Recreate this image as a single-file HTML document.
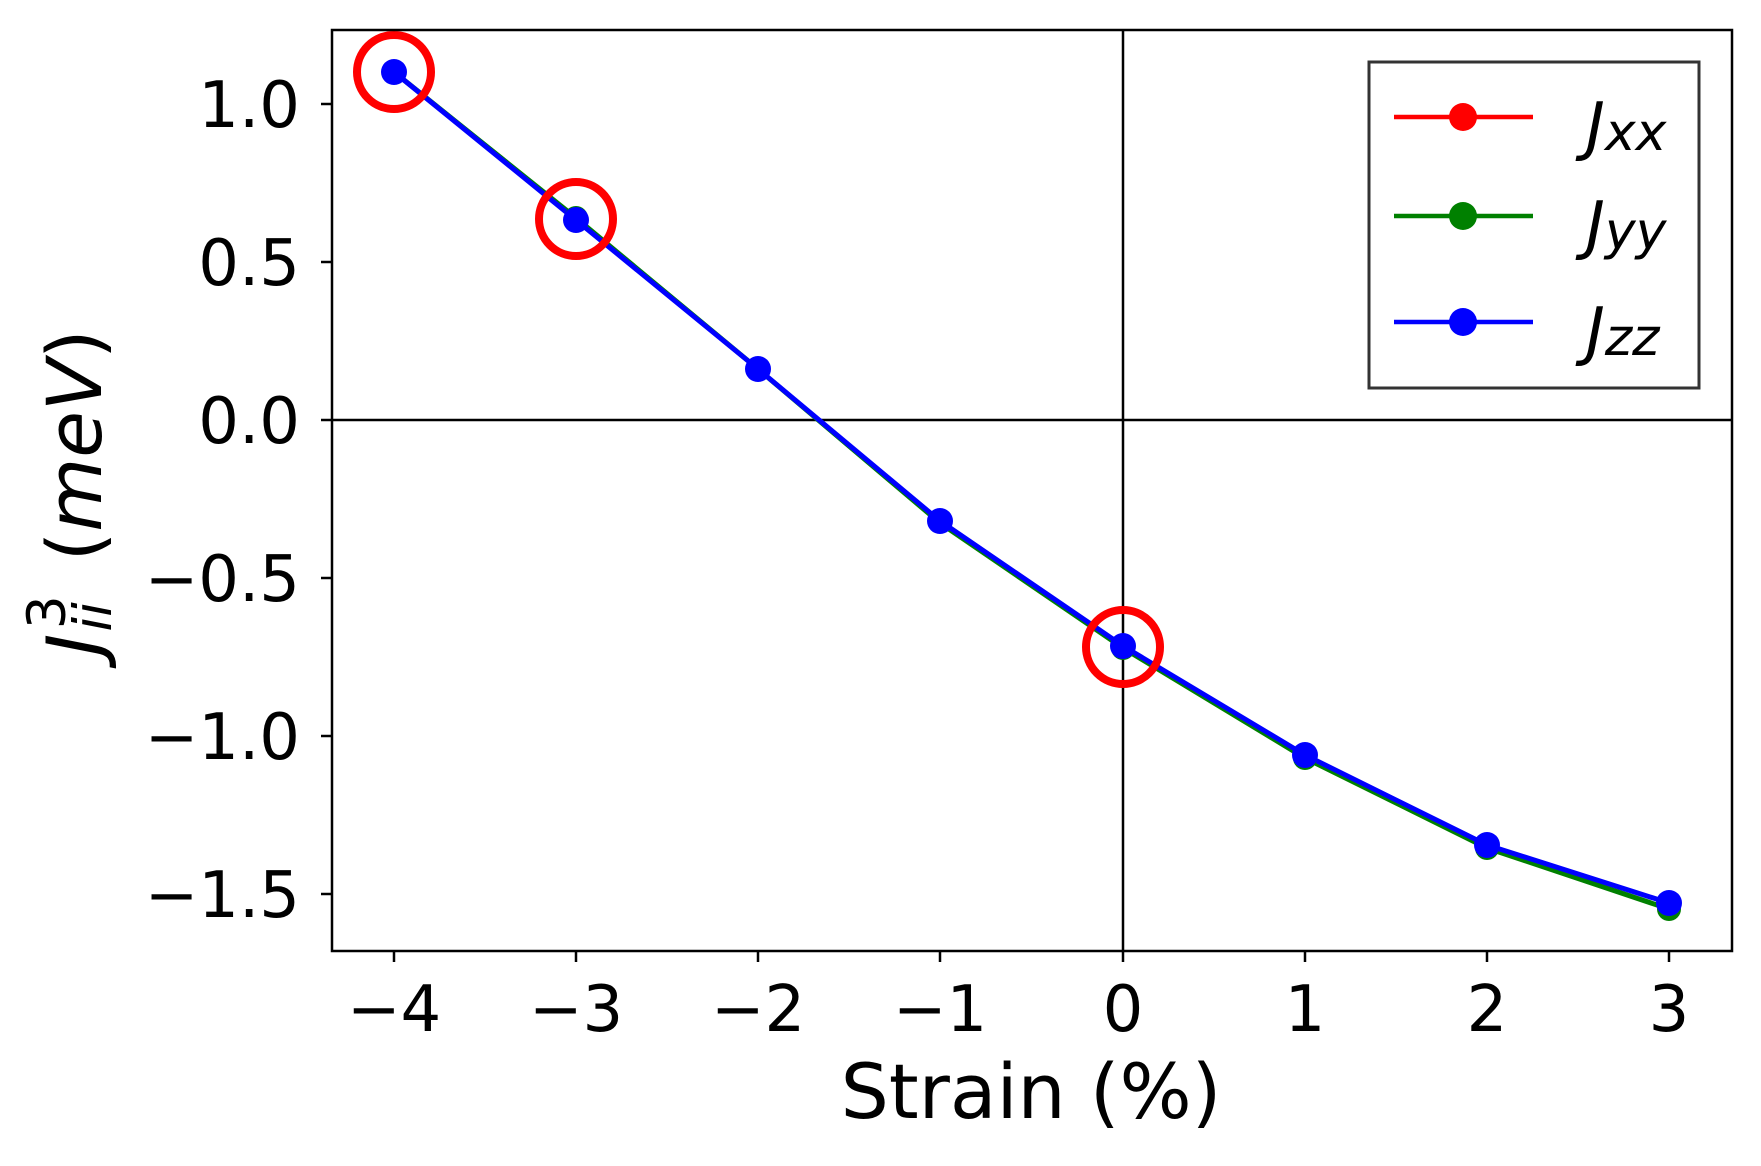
<!DOCTYPE html>
<html><head><style>body{margin:0;background:#fff}svg{display:block}</style></head><body>
<svg width="1761" height="1166" xmlns="http://www.w3.org/2000/svg" font-family="DejaVu Sans, Liberation Sans, sans-serif">
<rect width="1761" height="1166" fill="#fff"/>
<line x1="332" y1="420" x2="1732" y2="420" stroke="#000" stroke-width="2.5"/>
<line x1="1123" y1="30" x2="1123" y2="951" stroke="#000" stroke-width="2.5"/>
<g fill="none" stroke-width="5">
<polyline stroke="#008000" points="394,72 576,218 758,369 940,523 1123,648 1305,758 1487,848 1669,909"/>
<polyline stroke="#0000ff" points="394,72 576,220 758,369 940,521 1123,646 1305,755 1487,845 1669,903"/>
</g>
<g fill="#008000"><circle cx="576" cy="218" r="12"/><circle cx="1305" cy="758" r="12"/><circle cx="1487" cy="848" r="12"/><circle cx="1669" cy="909" r="12"/><circle cx="1123" cy="648" r="12"/></g>
<g fill="#0000ff"><circle cx="394" cy="72" r="13"/><circle cx="576" cy="220" r="13"/><circle cx="758" cy="369" r="13"/><circle cx="940" cy="521" r="13"/><circle cx="1123" cy="646" r="13"/><circle cx="1305" cy="755" r="13"/><circle cx="1487" cy="845" r="13"/><circle cx="1669" cy="903" r="13"/></g>
<g fill="none" stroke="#ff0000" stroke-width="8"><circle cx="394" cy="72" r="37"/><circle cx="576" cy="219" r="37"/><circle cx="1123" cy="647" r="37"/></g>
<rect x="332" y="30" width="1400" height="921" fill="none" stroke="#000" stroke-width="2.5"/>
<g stroke="#000" stroke-width="2.5">
<line x1="321" y1="104" x2="332" y2="104"/><line x1="321" y1="262" x2="332" y2="262"/><line x1="321" y1="420" x2="332" y2="420"/><line x1="321" y1="578" x2="332" y2="578"/><line x1="321" y1="736" x2="332" y2="736"/><line x1="321" y1="894" x2="332" y2="894"/>
<line x1="394" y1="951" x2="394" y2="962"/><line x1="576" y1="951" x2="576" y2="962"/><line x1="758" y1="951" x2="758" y2="962"/><line x1="940" y1="951" x2="940" y2="962"/><line x1="1123" y1="951" x2="1123" y2="962"/><line x1="1305" y1="951" x2="1305" y2="962"/><line x1="1487" y1="951" x2="1487" y2="962"/><line x1="1669" y1="951" x2="1669" y2="962"/>
</g>
<g font-size="64" text-anchor="end" fill="#000">
<text x="300" y="127">1.0</text><text x="300" y="285">0.5</text><text x="300" y="443">0.0</text><text x="300" y="601">−0.5</text><text x="300" y="759">−1.0</text><text x="300" y="917">−1.5</text>
</g>
<g font-size="64" text-anchor="middle" fill="#000">
<text x="394" y="1031">−4</text><text x="576" y="1031">−3</text><text x="758" y="1031">−2</text><text x="940" y="1031">−1</text><text x="1123" y="1031">0</text><text x="1305" y="1031">1</text><text x="1487" y="1031">2</text><text x="1669" y="1031">3</text>
</g>
<text x="1031" y="1118" font-size="76" text-anchor="middle">Strain (%)</text>
<g transform="translate(101,656) rotate(-90)" font-size="76">
<text x="0" y="0"><tspan font-style="italic">J</tspan><tspan font-size="53" font-style="italic" dy="10" dx="2">ii</tspan><tspan font-size="53" dx="-27" dy="-46">3</tspan><tspan dy="36" dx="34">(</tspan><tspan font-style="italic">meV</tspan><tspan>)</tspan></text>
</g>
<rect x="1369" y="62" width="330" height="326" fill="#fff" stroke="#333" stroke-width="3"/>
<line x1="1394" y1="117" x2="1533" y2="117" stroke="#ff0000" stroke-width="4.5"/><circle cx="1463" cy="117" r="14" fill="#ff0000"/>
<line x1="1394" y1="216" x2="1533" y2="216" stroke="#008000" stroke-width="4.5"/><circle cx="1463" cy="216" r="14" fill="#008000"/>
<line x1="1394" y1="322" x2="1533" y2="322" stroke="#0000ff" stroke-width="4.5"/><circle cx="1463" cy="322" r="14" fill="#0000ff"/>
<g font-size="64" font-style="italic" fill="#000">
<text x="1586" y="148">J<tspan font-size="52" dy="2">xx</tspan></text>
<text x="1586" y="247">J<tspan font-size="52" dy="2">yy</tspan></text>
<text x="1586" y="353">J<tspan font-size="52" dy="2">zz</tspan></text>
</g>
</svg>
</body></html>
